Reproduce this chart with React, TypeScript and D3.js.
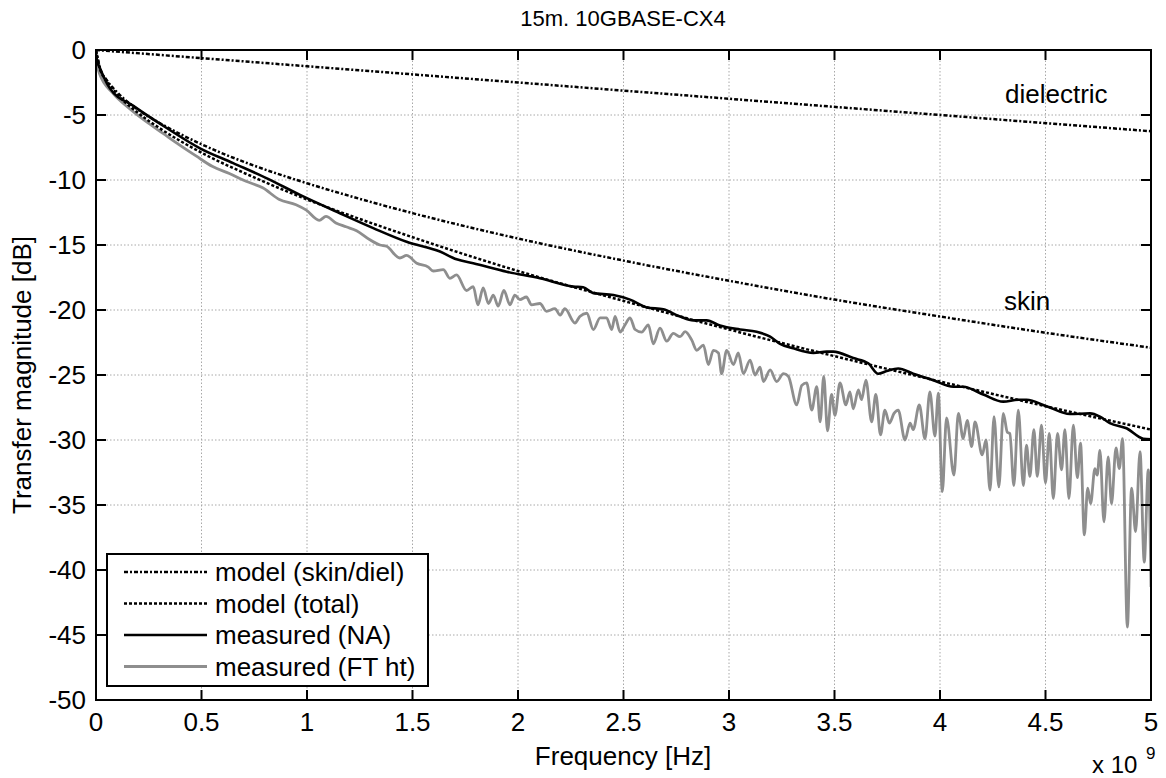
import React from "react";
import * as d3 from "d3";

// ---------- data (frequency in GHz, magnitude in dB) ----------
const xTicks = [0, 0.5, 1, 1.5, 2, 2.5, 3, 3.5, 4, 4.5, 5];
const yTicks = [0, -5, -10, -15, -20, -25, -30, -35, -40, -45, -50];

const dielF = [0, 1, 2, 3, 4, 5];
const dielDb = [0, -1.25, -2.5, -3.75, -5.0, -6.25];

const modelF = [0, 0.02, 0.05, 0.1, 0.2, 0.3, 0.5, 0.75, 1, 1.25, 1.5, 2, 2.5, 3, 3.5, 4, 4.5, 5];
const skinDb = [0, -1.45, -2.3, -3.25, -4.6, -5.6, -7.25, -8.9, -10.25, -11.45, -12.55, -14.5, -16.2, -17.75, -19.2, -20.5, -21.75, -22.9];
const totalDb = [0, -1.5, -2.35, -3.4, -4.85, -6.0, -7.9, -9.8, -11.5, -13.0, -14.4, -17.0, -19.3, -21.5, -23.55, -25.5, -27.4, -29.2];

const naF = [0, 0.005, 0.019, 0.066, 0.177, 0.335, 0.493, 0.65, 0.81, 0.967, 1.156, 1.314, 1.472, 1.63, 1.709, 1.788, 1.946, 2.104, 2.262, 2.309, 2.357, 2.452, 2.531, 2.61, 2.689, 2.768, 2.831, 2.894, 2.957, 3.052, 3.131, 3.195, 3.242, 3.305, 3.4, 3.463, 3.494, 3.589, 3.66, 3.707, 3.747, 3.802, 3.873, 3.968, 4.063, 4.11, 4.205, 4.3, 4.371, 4.41, 4.505, 4.616, 4.711, 4.758, 4.805, 4.884, 4.963, 5.0];
const naDb = [-0.3, -0.8, -1.4, -2.95, -4.3, -6.0, -7.56, -8.7, -9.87, -11.15, -12.56, -13.7, -14.75, -15.5, -16.1, -16.4, -17.05, -17.56, -18.2, -18.25, -18.7, -18.85, -19.2, -19.8, -19.95, -20.5, -20.8, -20.8, -21.2, -21.5, -21.67, -22.05, -22.6, -22.95, -23.3, -23.2, -23.2, -23.7, -24.1, -24.9, -24.7, -24.5, -24.9, -25.4, -25.9, -25.9, -26.5, -27.05, -26.9, -26.9, -27.4, -28.0, -27.95, -28.2, -28.7, -29.1, -29.9, -29.95];

const ftF = [0, 0.016, 0.079, 0.158, 0.237, 0.316, 0.395, 0.474, 0.553, 0.632, 0.711, 0.79, 0.869, 0.948, 0.995, 1.058, 1.09, 1.137, 1.185, 1.235, 1.298, 1.346, 1.377, 1.44, 1.472, 1.52, 1.575, 1.598, 1.646, 1.677, 1.709, 1.756, 1.788, 1.81, 1.835, 1.86, 1.883, 1.906, 1.933, 1.962, 1.985, 2.009, 2.04, 2.064, 2.104, 2.135, 2.175, 2.2, 2.222, 2.27, 2.293, 2.326, 2.357, 2.389, 2.42, 2.444, 2.46, 2.484, 2.507, 2.531, 2.555, 2.586, 2.618, 2.641, 2.673, 2.705, 2.736, 2.768, 2.792, 2.823, 2.847, 2.879, 2.902, 2.926, 2.95, 2.965, 2.989, 3.021, 3.044, 3.068, 3.1, 3.123, 3.147, 3.163, 3.195, 3.226, 3.258, 3.281, 3.321, 3.345, 3.368, 3.392, 3.416, 3.432, 3.449, 3.467, 3.486, 3.502, 3.526, 3.554, 3.573, 3.589, 3.613, 3.628, 3.649, 3.676, 3.696, 3.718, 3.739, 3.76, 3.782, 3.802, 3.834, 3.858, 3.873, 3.902, 3.929, 3.952, 3.976, 3.992, 4.011, 4.031, 4.066, 4.087, 4.11, 4.129, 4.15, 4.166, 4.2, 4.218, 4.237, 4.256, 4.279, 4.3, 4.319, 4.331, 4.35, 4.371, 4.395, 4.41, 4.426, 4.445, 4.461, 4.481, 4.5, 4.518, 4.537, 4.557, 4.576, 4.592, 4.611, 4.632, 4.651, 4.666, 4.684, 4.7, 4.714, 4.734, 4.745, 4.758, 4.777, 4.797, 4.813, 4.834, 4.85, 4.865, 4.888, 4.908, 4.927, 4.948, 4.968, 4.987, 5.0];
const ftDb = [-0.77, -1.8, -3.3, -4.5, -5.5, -6.4, -7.3, -8.15, -8.97, -9.5, -10.1, -10.6, -11.5, -11.9, -12.3, -13.1, -12.8, -13.3, -13.6, -13.9, -14.6, -15.0, -15.1, -16.0, -15.8, -16.4, -16.7, -17.0, -16.9, -17.56, -17.3, -18.5, -18.2, -19.6, -18.3, -19.5, -18.85, -19.7, -18.5, -19.6, -18.85, -19.2, -19.0, -19.6, -19.5, -20.1, -19.9, -20.4, -19.9, -21.0, -20.5, -20.25, -21.5, -20.6, -20.6, -21.5, -20.5, -21.7, -21.15, -20.6, -21.5, -21.7, -21.15, -22.6, -21.4, -22.4, -21.8, -22.05, -21.67, -22.3, -23.1, -22.7, -24.2, -23.1, -23.3, -24.9, -23.1, -24.2, -23.3, -24.9, -23.85, -25.0, -24.4, -25.5, -24.6, -25.5, -24.9, -25.1, -27.3, -25.8, -25.6, -27.7, -25.9, -28.6, -25.1, -29.3, -26.5, -28.1, -25.6, -27.3, -26.3, -27.6, -26.15, -26.9, -25.4, -28.6, -26.5, -29.6, -27.7, -28.7, -27.95, -27.7, -30.0, -28.7, -29.2, -27.3, -29.9, -26.3, -29.7, -26.4, -33.97, -28.3, -32.7, -27.95, -29.9, -28.5, -30.5, -28.6, -31.15, -30.0, -33.85, -28.2, -33.6, -27.95, -29.4, -29.5, -33.5, -27.7, -33.5, -30.4, -32.8, -29.2, -32.8, -28.85, -33.3, -29.5, -34.5, -29.5, -32.3, -29.2, -34.5, -28.85, -32.9, -30.25, -37.3, -33.7, -34.9, -32.2, -32.7, -30.8, -36.3, -31.3, -34.9, -30.6, -32.2, -29.9, -44.4, -33.7, -37.05, -30.9, -39.4, -32.3, -41.3];

const legendLabels = ["model (skin/diel)", "model (total)", "measured (NA)", "measured (FT ht)"];

// ---------- layout ----------
const W = 1166, H = 778;
const L = 96, R = 1151, T = 50, B = 700;
const FONT = "'Liberation Sans', Arial, Helvetica, sans-serif";
const FS = 26;

const x = d3.scaleLinear().domain([0, 5]).range([L, R]);
const y = d3.scaleLinear().domain([-50, 0]).range([B, T]);

const zip = (fs: number[], vs: number[]) => fs.map((f, i) => [f, vs[i]] as [number, number]);
const lineSmooth = d3.line<[number, number]>().x(d => x(d[0])).y(d => y(d[1])).curve(d3.curveMonotoneX);
const lineLinear = d3.line<[number, number]>().x(d => x(d[0])).y(d => y(d[1])).curve(d3.curveLinear);

const styles = [
  { stroke: "#000", width: 2.5, dash: "4,2,2,2" },
  { stroke: "#000", width: 2.5, dash: "3,2" },
  { stroke: "#000", width: 2.6, dash: undefined as string | undefined },
  { stroke: "#8e8e8e", width: 2.8, dash: undefined as string | undefined },
];

export default function App() {
  const tickLen = 10;
  return (
    <svg width={W} height={H} style={{ position: "absolute", left: 0, top: 0, display: "block", background: "#fff" }} fontFamily={FONT}>
      <rect x={0} y={0} width={W} height={H} fill="#fff" />
      <defs>
        <clipPath id="plotclip"><rect x={L} y={T} width={R - L} height={B - T} /></clipPath>
      </defs>
      {/* grid */}
      {xTicks.map(t => (
        <line key={"gx" + t} x1={x(t)} x2={x(t)} y1={T} y2={B} stroke="#a8a8a8" strokeWidth={1} strokeDasharray="1.5,2" />
      ))}
      {yTicks.map(t => (
        <line key={"gy" + t} x1={L} x2={R} y1={y(t)} y2={y(t)} stroke="#a8a8a8" strokeWidth={1} strokeDasharray="1.5,2" />
      ))}
      {/* series */}
      <g clipPath="url(#plotclip)" fill="none">
        <path d={lineSmooth(zip(ftF, ftDb)) || ""} stroke={styles[3].stroke} strokeWidth={styles[3].width} strokeLinejoin="round" />
        <path d={lineSmooth(zip(naF, naDb)) || ""} stroke={styles[2].stroke} strokeWidth={styles[2].width} strokeLinejoin="round" />
        <path d={lineSmooth(zip(modelF, totalDb)) || ""} stroke={styles[1].stroke} strokeWidth={styles[1].width} strokeDasharray={styles[1].dash} />
        <path d={lineSmooth(zip(modelF, skinDb)) || ""} stroke={styles[0].stroke} strokeWidth={styles[0].width} strokeDasharray={styles[0].dash} />
        <path d={lineLinear(zip(dielF, dielDb)) || ""} stroke={styles[0].stroke} strokeWidth={styles[0].width} strokeDasharray={styles[0].dash} />
      </g>
      {/* ticks */}
      {xTicks.map(t => (
        <g key={"tx" + t}>
          <line x1={x(t)} x2={x(t)} y1={B} y2={B - tickLen} stroke="#000" strokeWidth={2} />
          <line x1={x(t)} x2={x(t)} y1={T} y2={T + tickLen} stroke="#000" strokeWidth={2} />
          <text x={x(t)} y={731} textAnchor="middle" fontSize={FS} fill="#000">{String(t)}</text>
        </g>
      ))}
      {yTicks.map(t => (
        <g key={"ty" + t}>
          <line x1={L} x2={L + tickLen} y1={y(t)} y2={y(t)} stroke="#000" strokeWidth={2} />
          <line x1={R} x2={R - tickLen} y1={y(t)} y2={y(t)} stroke="#000" strokeWidth={2} />
          <text x={86} y={y(t) + 9} textAnchor="end" fontSize={FS} fill="#000">{String(t)}</text>
        </g>
      ))}
      {/* axes box */}
      <rect x={L} y={T} width={R - L} height={B - T} fill="none" stroke="#000" strokeWidth={2} />
      {/* annotations */}
      <text x={1005} y={103} fontSize={FS} fill="#000">dielectric</text>
      <text x={1004} y={310} fontSize={FS} fill="#000">skin</text>
      {/* title & labels */}
      <text x={623} y={26} textAnchor="middle" fontSize={22} fill="#000">15m. 10GBASE-CX4</text>
      <text x={623} y={765} textAnchor="middle" fontSize={FS} fill="#000">Frequency [Hz]</text>
      <text transform={`translate(31,${(T + B) / 2}) rotate(-90)`} textAnchor="middle" fontSize={FS} fill="#000">Transfer magnitude [dB]</text>
      <text x={1092} y={773} fontSize={24} fill="#000">x 10</text>
      <text x={1146} y={759} fontSize={17} fill="#000">9</text>
      {/* legend */}
      <g>
        <rect x={107} y={554} width={321} height={132} fill="#fff" stroke="#000" strokeWidth={2} />
        {legendLabels.map((lab, i) => {
          const ly = 572 + i * 31.5;
          const s = styles[i];
          return (
            <g key={lab}>
              <line x1={124} x2={207} y1={ly} y2={ly} stroke={s.stroke} strokeWidth={s.width} strokeDasharray={s.dash} />
              <text x={215} y={ly + 9} fontSize={FS} fill="#000">{lab}</text>
            </g>
          );
        })}
      </g>
    </svg>
  );
}
